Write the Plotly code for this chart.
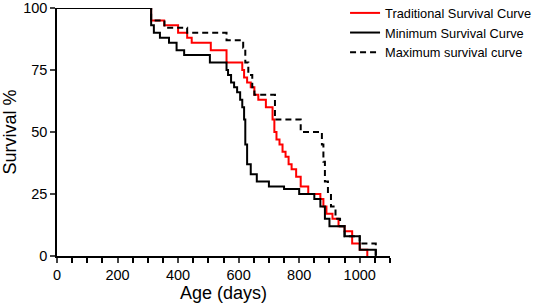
import plotly.graph_objects as go

# Traditional survival curve
trad_days = [0, 311, 354, 400, 430, 445, 508, 560, 612, 618, 628, 640, 652, 665, 690, 712, 718, 725, 735, 745, 755, 765, 775, 790, 805, 830, 870, 880, 890, 910, 930, 950, 975, 1000, 1025]
trad_surv = [100, 95, 93, 90, 88, 86, 83, 78, 75, 72, 70, 68, 65, 63, 60, 55, 50, 47, 45, 42, 40, 37, 35, 32, 28, 25, 23, 20, 17, 15, 12, 10, 5, 2.5, 0]

# Minimum survival curve
min_days = [0, 311, 320, 340, 370, 395, 420, 505, 560, 565, 575, 585, 595, 605, 612, 618, 622, 628, 640, 660, 700, 750, 800, 850, 870, 885, 900, 950, 1000, 1053]
min_surv = [100, 93, 90, 88, 86, 83, 81, 78, 75, 73, 70, 68, 66, 63, 60, 55, 45, 37, 33, 30, 28, 27, 25, 23, 20, 15, 12, 8, 2.5, 0]

# Maximum survival curve
max_days = [0, 311, 355, 430, 560, 615, 622, 632, 645, 652, 720, 805, 875, 880, 885, 895, 905, 920, 935, 950, 1000, 1053]
max_surv = [100, 95, 92, 90, 87, 84, 78, 73, 68, 65, 55, 50, 45, 38, 30, 25, 20, 15, 12, 8, 5, 0]

x_ticks = [0, 200, 400, 600, 800, 1000]
y_ticks = [0, 25, 50, 75, 100]

fig = go.Figure()
fig.add_trace(go.Scatter(x=trad_days, y=trad_surv, mode="lines", line_shape="hv",
                         line=dict(color="#ff0000", width=2), name="Traditional Survival Curve"))
fig.add_trace(go.Scatter(x=min_days, y=min_surv, mode="lines", line_shape="hv",
                         line=dict(color="#000000", width=2), name="Minimum Survival Curve"))
fig.add_trace(go.Scatter(x=max_days, y=max_surv, mode="lines", line_shape="hv",
                         line=dict(color="#000000", width=2, dash="6px,4px"), name="Maximum survival curve"))

fig.update_layout(
    width=533, height=308,
    margin=dict(l=57, r=143, t=8, b=52, autoexpand=False),
    paper_bgcolor="white", plot_bgcolor="white",
    font=dict(family="Liberation Sans, Arial, sans-serif", color="black", size=14),
    legend=dict(x=0.865, y=1.04, xanchor="left", yanchor="top", font=dict(size=12.8),
                bgcolor="rgba(0,0,0,0)"),
    showlegend=True,
)
fig.update_xaxes(range=[0, 1100], tickvals=x_ticks, ticks="outside", ticklen=5, tickwidth=1.5,
                 showline=True, linecolor="black", linewidth=1.5, showgrid=False, zeroline=False,
                 automargin=False, tickfont=dict(size=14.5),
                 minor=dict(dtick=50, ticks="outside", ticklen=5, tickwidth=1.5, tickcolor="black", showgrid=False),
                 title=dict(text="Age (days)", font=dict(size=18), standoff=2))
fig.update_yaxes(range=[0, 100], tickvals=y_ticks, ticks="outside", ticklen=5, tickwidth=1.5,
                 showline=True, linecolor="black", linewidth=1.5, showgrid=False, zeroline=False,
                 automargin=False, tickfont=dict(size=14.5),
                 title=dict(text="Survival %", font=dict(size=18), standoff=9))

fig.write_html("out.html", config={"displayModeBar": False},
               post_script="document.body.style.margin='0';document.body.style.padding='0';")
